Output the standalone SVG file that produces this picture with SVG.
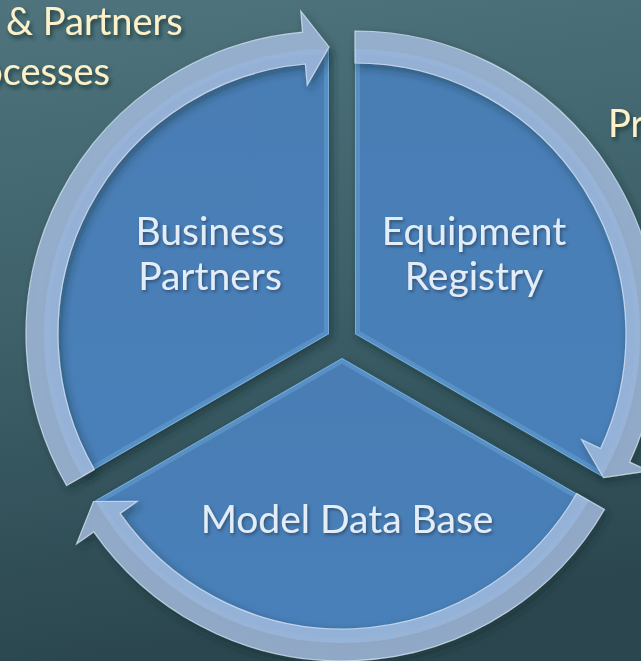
<svg xmlns="http://www.w3.org/2000/svg" width="641" height="661" viewBox="0 0 641 661">
  <defs>
    <linearGradient id="bg" x1="0" y1="0" x2="0.15" y2="1">
      <stop offset="0" stop-color="#4f747d"/>
      <stop offset="0.5" stop-color="#3d6069"/>
      <stop offset="1" stop-color="#2b464e"/>
    </linearGradient>
    <linearGradient id="wedgeFill" x1="0" y1="0" x2="0" y2="1">
      <stop offset="0" stop-color="#4a7db4"/>
      <stop offset="1" stop-color="#4a80b9"/>
    </linearGradient>
    <filter id="shadow" x="-10%" y="-10%" width="120%" height="120%">
      <feDropShadow dx="3" dy="4" stdDeviation="4" flood-color="#15262c" flood-opacity="0.55"/>
    </filter>
    <filter id="textShadow" x="-10%" y="-30%" width="120%" height="160%">
      <feDropShadow dx="1.5" dy="2" stdDeviation="1.5" flood-color="#1b2f44" flood-opacity="0.55"/>
    </filter>
    <filter id="titleShadow" x="-10%" y="-30%" width="120%" height="160%">
      <feDropShadow dx="2" dy="3" stdDeviation="2" flood-color="#14252b" flood-opacity="0.7"/>
    </filter>
    <clipPath id="clipLeft"><path d="M329,334 L82.2,476.5 A285,285 0 0 1 329,49 Z"/></clipPath>
    <clipPath id="clipRight"><path d="M355,334 L355,49 A285,285 0 0 1 601.8,476.5 Z"/></clipPath>
    <clipPath id="clipBottom"><path d="M342,358 L588.8,500.5 A285,285 0 0 1 95.2,500.5 Z"/></clipPath>
  </defs>
  <style>
    .wedge { fill: url(#wedgeFill); }
    .bevel { fill: none; stroke: #6aa6d8; stroke-width: 10; stroke-opacity: 0.45; }
    .edge { fill: none; stroke: #86c2e6; stroke-width: 2; stroke-opacity: 0.6; }
    .band { fill: #a9c3e6; fill-opacity: 0.76; stroke: #d2e1f3; stroke-width: 1.2; stroke-opacity: 0.8; }
    .label { font-family: Lato, "Open Sans", "Liberation Sans", sans-serif; font-size: 39px; fill: #e3edf8; text-anchor: middle; }
    .title { font-family: Lato, "Open Sans", "Liberation Sans", sans-serif; font-size: 38px; fill: #fdf1c9; }
  </style>

  <!-- background -->
  <rect width="641" height="661" fill="url(#bg)"/>

  <!-- partially visible headings -->
  <g id="headings" filter="url(#titleShadow)">
    <text class="title" x="6" y="35">&amp; Partners</text>
    <text class="title" x="110" y="85" text-anchor="end">ocesses</text>
    <text class="title" x="608" y="137">Pr</text>
  </g>

  <!-- segment: Business Partners -->
  <g id="business-partners">
    <path class="wedge" filter="url(#shadow)" d="M329,334 L82.2,476.5 A285,285 0 0 1 329,49 Z"/>
    <g clip-path="url(#clipLeft)">
      <path class="bevel" d="M329,334 L82.2,476.5 A285,285 0 0 1 329,49 Z"/>
      <path class="edge" d="M329,49 L329,334 L82.2,476.5"/>
    </g>
    <g filter="url(#textShadow)">
      <text class="label" x="210" y="245">Business</text>
      <text class="label" x="210" y="290">Partners</text>
    </g>
  </g>

  <!-- segment: Equipment Registry -->
  <g id="equipment-registry">
    <path class="wedge" filter="url(#shadow)" d="M355,334 L355,49 A285,285 0 0 1 601.8,476.5 Z"/>
    <g clip-path="url(#clipRight)">
      <path class="bevel" d="M355,334 L355,49 A285,285 0 0 1 601.8,476.5 Z"/>
      <path class="edge" d="M355,49 L355,334 L601.8,476.5"/>
    </g>
    <g filter="url(#textShadow)">
      <text class="label" x="474" y="245">Equipment</text>
      <text class="label" x="474" y="290">Registry</text>
    </g>
  </g>

  <!-- segment: Model Data Base -->
  <g id="model-data-base">
    <path class="wedge" filter="url(#shadow)" d="M342,358 L588.8,500.5 A285,285 0 0 1 95.2,500.5 Z"/>
    <g clip-path="url(#clipBottom)">
      <path class="bevel" d="M342,358 L588.8,500.5 A285,285 0 0 1 95.2,500.5 Z"/>
      <path class="edge" d="M95.2,500.5 L342,358 L588.8,500.5"/>
    </g>
    <g filter="url(#textShadow)">
      <text class="label" x="347" y="533">Model Data Base</text>
    </g>
  </g>

  <!-- circular arrows around the segments -->
  <g id="connectors" filter="url(#shadow)">
    <path class="band" d="M66.6,485.5 A303,303 0 0 1 302.6,32.2 L300.8,11.2 L329,47 L307.2,85 L305.4,64 A271,271 0 0 0 94.3,469.5 Z"/>
    <path class="band" d="M355,31 A303,303 0 0 1 629.6,462.1 L648.6,470.9 L603.5,477.5 L581.6,439.7 L600.6,448.5 A271,271 0 0 0 355,63 Z"/>
    <path class="band" d="M604.4,509.5 A303,303 0 0 1 93.8,531.8 L76.6,543.8 L93.5,501.5 L137.2,501.4 L120,513.4 A271,271 0 0 0 576.7,493.5 Z"/>
  </g>
</svg>
